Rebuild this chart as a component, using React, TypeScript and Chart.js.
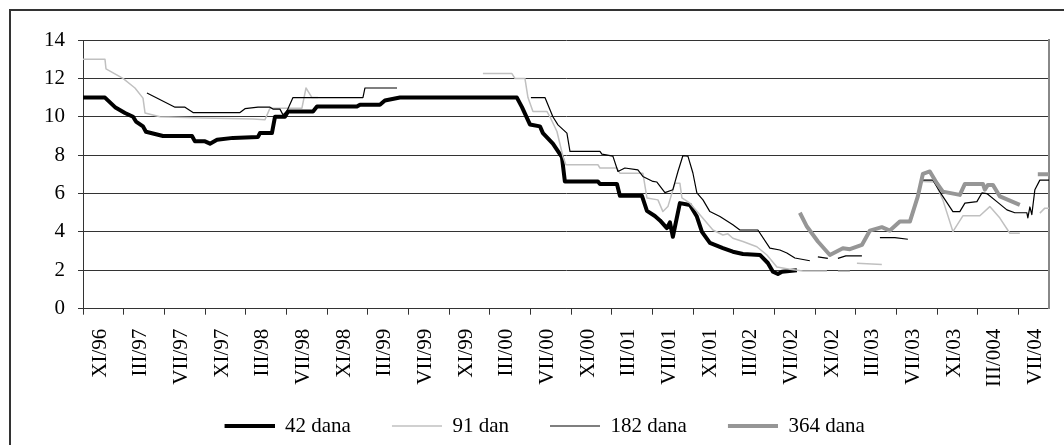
import React, { useEffect, useRef } from "react";
import { Chart, registerables } from "chart.js";

Chart.register(...registerables);

// Tick labels (one every 4 months, starting XI/96)
const tickLabels = [
  "XI/96", "III/97", "VII/97", "XI/97", "III/98", "VII/98", "XI/98", "III/99",
  "VII/99", "XI/99", "III/00", "VII/00", "XI/00", "III/01", "VII/01", "XI/01",
  "III/02", "VII/02", "XI/02", "III/03", "VII/03", "XI/03", "III/004", "VII/04",
];
const monthsTotal = 95; // XI/96 .. IX/04

// Series: time in months since XI/96, value in %
const s42Months = [0, 2.16, 3.15, 4.13, 4.92, 5.21, 5.9, 6.19, 7.87, 10.72, 11.01, 12.0, 12.49, 13.18, 14.75, 17.21, 17.4, 18.58, 18.88, 19.86, 20.16, 22.62, 23.01, 26.94, 27.24, 29.2, 29.69, 31.17, 42.67, 43.17, 43.95, 44.94, 45.23, 46.21, 47.1, 47.39, 50.64, 50.84, 52.51, 52.8, 54.97, 55.46, 56.24, 56.74, 57.42, 57.72, 58.01, 58.7, 59.69, 60.37, 60.87, 61.65, 62.93, 63.91, 64.9, 66.57, 67.35, 67.85, 68.34, 68.74, 70.21];
const s42Values = [11, 11, 10.5, 10.2, 10, 9.75, 9.5, 9.22, 9.0, 9.0, 8.72, 8.72, 8.6, 8.8, 8.9, 8.95, 9.15, 9.15, 10, 10, 10.28, 10.28, 10.54, 10.54, 10.63, 10.63, 10.85, 11, 11, 10.5, 9.6, 9.5, 9.15, 8.6, 7.9, 6.63, 6.63, 6.5, 6.5, 5.88, 5.88, 5.1, 4.83, 4.6, 4.2, 4.5, 3.75, 5.5, 5.4, 4.8, 4.0, 3.43, 3.16, 2.97, 2.85, 2.8, 2.38, 1.93, 1.81, 1.93, 2.0];

const s91Months = [0, 2.16, 2.26, 3.93, 5.11, 5.9, 6.1, 7.57, 11.8, 16.72, 17.9, 18.39, 21.53, 21.93, 22.52, 23.11, 23.2, 39.33, 42.18, 42.48, 43.46, 43.76, 44.25, 45.62, 45.92, 46.61, 47.2, 47.49, 50.64, 50.84, 52.51, 52.8, 55.06, 55.46, 56.54, 57.03, 57.52, 58.21, 58.7, 58.9, 59.69, 60.67, 61.95, 62.93, 63.42, 63.91, 64.9, 66.27, 67.26, 68.24, 69.52, 70.8, 71.48, 73.16, 73.7, 74.24, 75.42, 75.8, 76.11, 78.56, 80, 82.6, 83.78, 84.56, 85.55, 86.53, 88.2, 89.18, 90.17, 91.15, 92.13, 93, 94.1, 94.59, 95];
const s91Values = [13, 13, 12.5, 12, 11.5, 10.97, 10.2, 10, 9.93, 9.88, 9.85, 10.45, 10.45, 11.5, 11, 11, null, 12.25, 12.25, 12, 12, 11, 10.28, 10.28, 10, 9.23, 7.93, 7.5, 7.5, 7.33, 7.33, 7.06, 7.06, 5.77, 5.67, 5.06, 5.32, 6.54, 6.54, 5.77, 5.5, 4.89, 4.1, 3.84, 3.9, 3.67, 3.5, 3.23, 2.8, 2.17, 2.05, 1.97, 1.97, 1.97, null, 1.95, 1.95, null, 2.37, 2.3, null, 6.63, 6.6, 5.67, 4.02, 4.84, 4.84, 5.32, 4.72, 3.93, 3.93, null, 4.98, 5.24, 5.24];

const s182Months = [6.29, 9.05, 10.03, 10.82, 15.44, 15.93, 17.21, 18.39, 18.68, 19.37, 19.67, 20.06, 20.65, 27.53, 27.73, 30.88, 31, 44.05, 45.43, 46.21, 46.71, 47.59, 47.89, 50.84, 51.03, 52.11, 52.61, 53.29, 54.57, 55.06, 56.05, 56.44, 57.23, 58.01, 58.51, 59.0, 59.49, 59.98, 60.37, 60.97, 61.65, 62.64, 63.91, 64.6, 66.37, 67.55, 68.53, 69.22, 70.01, 71.48, 71.9, 72.27, 73.25, 73.7, 74.24, 75.02, 76.6, 77.5, 78.37, 79.84, 81.12, 82, 82.6, 83.58, 84.46, 85.55, 86.23, 86.73, 87.91, 88.4, 88.89, 89.87, 90.86, 91.64, 92.82, 92.92, 93.12, 93.31, 93.61, 94.1, 95];
const s182Values = [11.24, 10.5, 10.5, 10.22, 10.22, 10.42, 10.5, 10.5, 10.4, 10.4, 10.1, 10.3, 11, 11, 11.5, 11.5, null, 11, 11, 10, 9.58, 9.15, 8.2, 8.2, 8.05, 7.95, 7.15, 7.33, 7.23, 6.89, 6.63, 6.6, 6.05, 6.2, 7.15, 7.98, 7.95, 7.07, 6.03, 5.67, 5.06, 4.8, 4.37, 4.1, 4.1, 3.16, 3.06, 2.9, 2.64, 2.5, null, 2.7, 2.62, null, 2.62, 2.75, 2.75, null, 3.7, 3.7, 3.62, null, 6.7, 6.7, 5.93, 5.06, 5.06, 5.5, 5.58, 6.03, 6.0, 5.58, 5.15, 5.0, 5.0, 4.73, 5.3, 4.9, 6.2, 6.7, 6.7];

const s364Months = [70.5, 71.19, 72.27, 73.45, 74.73, 75.42, 76.6, 77.39, 78.56, 79.35, 80.33, 81.32, 82.1, 82.6, 83.28, 83.97, 84.56, 86.23, 86.73, 88.5, 88.69, 88.99, 89.48, 90.17, 92.13, 93, 93.9, 95];
const s364Values = [5.0, 4.28, 3.5, 2.8, 3.15, 3.1, 3.32, 4.07, 4.25, 4.07, 4.54, 4.54, 5.85, 7.03, 7.15, 6.54, 6.1, 5.93, 6.5, 6.5, 6.2, 6.45, 6.45, 5.85, 5.41, null, 7.0, 7.0];

const seriesNames = ["42 dana", "91 dan", "182 dana", "364 dana"];

function toPoints(months: number[], values: (number | null)[]) {
  return months.map((m, i) => ({ x: m, y: values[i] }));
}

const FONT = { family: "'Liberation Serif', 'Times New Roman', serif", size: 21 };

// legend swatch: blank lead-in followed by a 50px line sample
function legendSwatch(color: string, width: number) {
  const c = document.createElement("canvas");
  c.width = 70;
  c.height = 8;
  const g = c.getContext("2d")!;
  g.strokeStyle = color;
  g.lineWidth = width;
  g.beginPath();
  g.moveTo(20, 4);
  g.lineTo(70, 4);
  g.stroke();
  return c;
}

export default function App() {
  const ref = useRef<HTMLCanvasElement>(null);

  useEffect(() => {
    const line = (label: string, data: any[], color: string, width: number, order: number) => ({
      label,
      data,
      borderColor: color,
      backgroundColor: color,
      borderWidth: width,
      pointRadius: 0,
      pointHoverRadius: 0,
      pointStyle: legendSwatch(color, width),
      tension: 0,
      spanGaps: false,
      borderJoinStyle: "round" as const,
      order,
    });

    const chart = new Chart(ref.current!, {
      type: "line",
      data: {
        datasets: [
          line(seriesNames[0], toPoints(s42Months, s42Values), "#000000", 4, 4),
          line(seriesNames[1], toPoints(s91Months, s91Values), "#c0c0c0", 1.5, 3),
          line(seriesNames[2], toPoints(s182Months, s182Values), "#000000", 1.2, 2),
          line(seriesNames[3], toPoints(s364Months, s364Values), "#969696", 4, 1),
        ],
      },
      options: {
        animation: false,
        responsive: false,
        devicePixelRatio: 1,
        layout: { padding: { left: 20.3, right: 15, top: 40, bottom: 10.5 } },
        scales: {
          x: {
            type: "linear",
            min: 0,
            max: monthsTotal,
            afterBuildTicks: (axis: any) => {
              axis.ticks = tickLabels.map((_, i) => ({ value: i * 4 }));
            },
            afterFit: (s: any) => {
              s.height = 85.8;
            },
            ticks: {
              autoSkip: false,
              maxRotation: 90,
              minRotation: 90,
              labelOffset: 17,
              padding: 14,
              font: FONT,
              color: "#000",
              callback: (v: any) => tickLabels[Math.round(Number(v) / 4)] ?? "",
            },
            grid: { drawOnChartArea: false, tickLength: 6, color: "#333" },
            border: { color: "#333", width: 1 },
          },
          y: {
            min: 0,
            max: 14,
            afterFit: (s: any) => {
              s.width = 62.7;
            },
            ticks: { stepSize: 2, padding: 13, font: FONT, color: "#000" },
            grid: { color: "#333", tickLength: 5, lineWidth: 1 },
            border: { color: "#333", width: 1 },
          },
          y2: {
            position: "right",
            min: 0,
            max: 14,
            afterFit: (s: any) => {
              s.width = 0;
            },
            ticks: { display: false },
            grid: { display: false, drawTicks: false },
            border: { display: true, color: "#888", width: 2 },
          },
        },
        plugins: {
          legend: {
            position: "bottom",
            maxHeight: 40,
            labels: {
              usePointStyle: true,
              pointStyleWidth: 70,
              padding: 21,
              font: FONT,
              color: "#000",
              sort: (a: any, b: any) => a.datasetIndex - b.datasetIndex,
            },
          },
          tooltip: { enabled: false },
        },
      },
    });
    return () => chart.destroy();
  }, []);

  return (
    <div
      style={{
        position: "fixed",
        left: 0,
        top: 0,
        width: 1064,
        height: 445,
        overflow: "hidden",
        background: "#fff",
      }}
    >
      <div
        style={{
          position: "absolute",
          left: 9,
          top: 9,
          width: 1200,
          height: 600,
          borderLeft: "2px solid #333",
          borderTop: "2px solid #333",
        }}
      />
      <canvas ref={ref} width={1064} height={445} style={{ position: "absolute", left: 0, top: 0 }} />
    </div>
  );
}
